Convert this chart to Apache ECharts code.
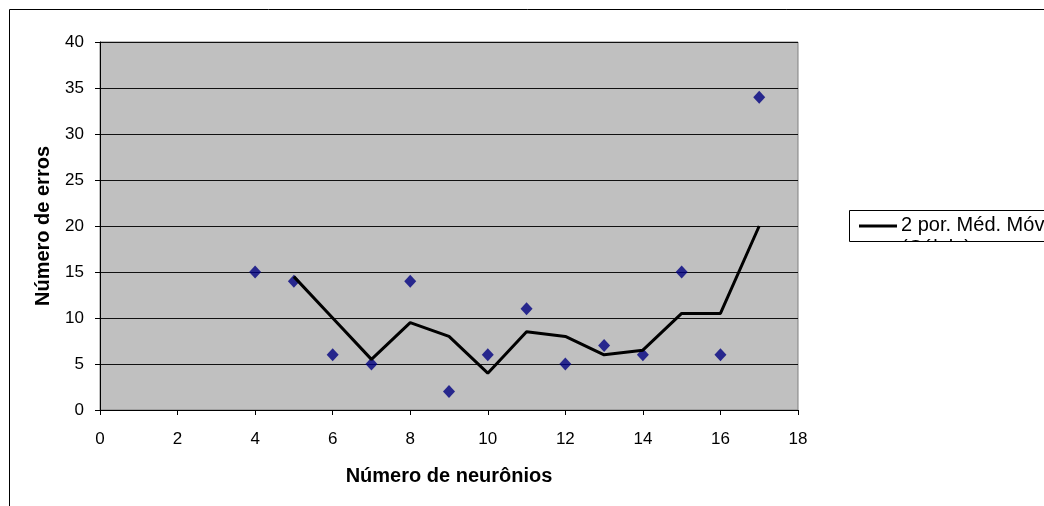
<!DOCTYPE html>
<html><head><meta charset="utf-8">
<script src="https://cdn.jsdelivr.net/npm/echarts@6/dist/echarts.min.js"></script>
<style>html,body{margin:0;padding:0;background:#fff}#c{width:1044px;height:506px}</style>
</head><body><div id="c"></div>
<script>
const neurons = [4,5,6,7,8,9,10,11,12,13,14,15,16,17];
const errors = [15,14,6,5,14,2,6,11,5,7,6,15,6,34];
const maX = [5,6,7,8,9,10,11,12,13,14,15,16,17];
const maY = [14.5,10,5.5,9.5,8,4,8.5,8,6,6.5,10.5,10.5,20];
const seriesName = '2 por. Méd. Móvel';
const legendLine2 = '(Célula)';
const xTitle = 'Número de neurônios';
const yTitle = 'Número de erros';

const font = '"Liberation Sans", Arial, sans-serif';
const chart = echarts.init(document.getElementById('c'));
chart.setOption({
  animation: false,
  backgroundColor: '#fff',
  grid: {left: 100, top: 42, right: 246, bottom: 96, show: true, backgroundColor: '#C0C0C0', borderColor: '#808080', borderWidth: 1},
  xAxis: {
    type: 'value', min: 0, max: 18, interval: 2,
    axisLine: {onZero: false, lineStyle: {color: '#000', width: 1}},
    axisTick: {show: true, length: 5, inside: false, lineStyle: {color: '#000'}},
    axisLabel: {color: '#000', fontSize: 17, fontFamily: font, margin: 21},
    splitLine: {show: false},
    name: xTitle, nameLocation: 'middle', nameGap: 56,
    nameTextStyle: {color: '#000', fontSize: 20, fontWeight: 'bold', fontFamily: font}
  },
  yAxis: {
    type: 'value', min: 0, max: 40, interval: 5,
    axisLine: {show: true, onZero: false, lineStyle: {color: '#000', width: 1}},
    axisTick: {show: true, length: 5, inside: false, lineStyle: {color: '#000'}},
    axisLabel: {color: '#000', fontSize: 17, fontFamily: font, margin: 16},
    splitLine: {show: true, lineStyle: {color: '#111', width: 1}},
    name: yTitle, nameLocation: 'middle', nameGap: 47, nameRotate: 90,
    nameTextStyle: {color: '#000', fontSize: 20, fontWeight: 'bold', fontFamily: font}
  },
  series: [
    {type: 'scatter', name: 'Erros', data: neurons.map((x,i)=>[x, errors[i]]), symbol: 'diamond', symbolSize: [12,13],
     itemStyle: {color: '#000080'}, z: 3},
    {type: 'line', name: seriesName, data: maX.map((x,i)=>[x, maY[i]]), symbol: 'none',
     lineStyle: {color: '#000', width: 3}, z: 4}
  ],
  graphic: [
    {type: 'rect', shape: {x: 9.5, y: 9.5, width: 1100, height: 600}, style: {fill: 'none', stroke: '#000', lineWidth: 1}, z: 100},
    {type: 'text', left: 901, top: 238, style: {text: legendLine2, font: '20px ' + font, fill: '#000'}, z: 101},
    {type: 'rect', shape: {x: 840, y: 242, width: 300, height: 30}, style: {fill: '#fff'}, z: 102},
    {type: 'rect', shape: {x: 849.5, y: 210.5, width: 300, height: 31}, style: {fill: 'none', stroke: '#000', lineWidth: 1}, z: 103},
    {type: 'line', shape: {x1: 859, y1: 226, x2: 897, y2: 226}, style: {stroke: '#000', lineWidth: 3}, z: 103},
    {type: 'text', left: 901, top: 215, style: {text: seriesName, font: '20px ' + font, fill: '#000'}, z: 103}
  ]
});
</script></body></html>
